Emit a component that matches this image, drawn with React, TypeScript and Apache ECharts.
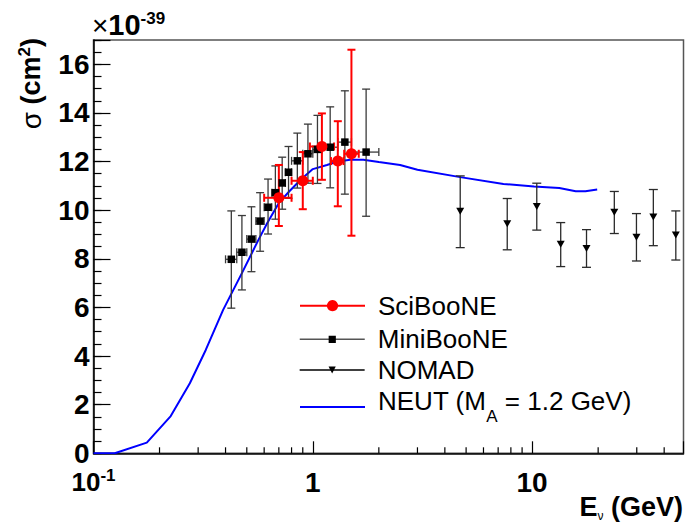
import React, { useEffect, useRef } from 'react';
import * as echarts from 'echarts';

const FONT = "'Liberation Sans', Arial, Helvetica, sans-serif";

// ---- SciBooNE ----
const sciE = [0.7, 0.9, 1.1, 1.3, 1.5];
const sciSigma = [10.51, 11.21, 12.62, 12.02, 12.32];
const sciErrLow = [9.35, 10.04, 11.25, 10.16, 8.95];
const sciErrHigh = [11.86, 12.39, 13.98, 13.66, 16.6];
const sciBinLow = [0.6, 0.8, 0.97, 1.21, 1.39];
const sciBinHigh = [0.8, 1.0, 1.25, 1.38, 1.62];

// ---- MiniBooNE ----
const mbE = [0.425, 0.475, 0.525, 0.575, 0.625, 0.675, 0.725, 0.775, 0.85, 0.95, 1.05, 1.2, 1.4, 1.75];
const mbSigma = [7.98, 8.27, 8.81, 9.55, 10.12, 10.72, 11.12, 11.56, 12.03, 12.32, 12.5, 12.59, 12.8, 12.39];
const mbErrLow = [5.97, 6.72, 7.47, 8.31, 9.02, 9.63, 10.04, 10.49, 10.91, 11.11, 11.1, 10.92, 10.66, 9.75];
const mbErrHigh = [9.97, 9.78, 10.14, 10.72, 11.28, 11.82, 12.18, 12.62, 13.17, 13.54, 13.9, 14.25, 14.91, 14.98];
const mbBinLow = [0.4, 0.45, 0.5, 0.55, 0.6, 0.65, 0.7, 0.75, 0.8, 0.9, 1.0, 1.1, 1.3, 1.5];
const mbBinHigh = [0.45, 0.5, 0.55, 0.6, 0.65, 0.7, 0.75, 0.8, 0.9, 1.0, 1.1, 1.3, 1.5, 2.0];

// ---- NOMAD ----
const nomadE = [4.7, 7.7, 10.5, 13.5, 17.7, 23.7, 29.9, 35.7, 45.2];
const nomadSigma = [9.96, 9.44, 10.15, 8.6, 8.42, 9.92, 8.89, 9.72, 8.98];
const nomadErrLow = [8.46, 8.37, 9.18, 7.68, 7.65, 9.04, 7.91, 8.54, 7.95];
const nomadErrHigh = [11.41, 10.48, 11.11, 9.49, 9.2, 10.77, 9.86, 10.85, 9.97];

// ---- NEUT (M_A = 1.2 GeV) ----
const neutE = [0.1, 0.125, 0.175, 0.225, 0.275, 0.325, 0.39, 0.475, 0.565, 0.62, 0.7, 0.78, 0.88, 1.0, 1.16, 1.3, 1.48, 1.7, 2.0, 2.5, 3.0, 4.7, 7.4, 10.2, 13.3, 15.8, 17.5, 19.8];
const neutSigma = [0, 0, 0.44, 1.53, 2.88, 4.25, 5.9, 7.41, 8.78, 9.47, 10.3, 10.77, 11.25, 11.69, 11.86, 12.0, 12.07, 12.07, 11.98, 11.86, 11.66, 11.36, 11.08, 10.97, 10.91, 10.78, 10.78, 10.85];

// ---- axes ----
const xMin = 0.1;
const xMax = 49;
const yMin = 0;
const yMax = 17;
const yMajorStep = 2;
const yMinorStep = 0.5;
const xTickValues = [0.1, 1, 10];
const xTickTexts = ['{b|10}{s|-1}', '{m|1}', '{m|10}'];
const xMinorTicks = [0.2, 0.3, 0.4, 0.5, 0.6, 0.7, 0.8, 0.9, 2, 3, 4, 5, 6, 7, 8, 9, 20, 30, 40];

const LEGEND_FS = 26;

function errorSeries(
  name: string,
  xs: number[],
  ys: number[],
  lo: number[],
  hi: number[],
  xlo: number[] | null,
  xhi: number[] | null,
  color: string,
  width: number,
  cap: number,
  z: number
) {
  const rows = xs.map((x, i) => [x, ys[i], lo[i], hi[i], xlo ? xlo[i] : x, xhi ? xhi[i] : x]);
  const hasX = !!xlo;
  return {
    type: 'custom',
    name,
    z,
    silent: true,
    clip: false,
    data: rows,
    encode: { x: 0, y: 1 },
    renderItem: (_params: any, api: any) => {
      const x = api.value(0);
      const y = api.value(1);
      const pLo = api.coord([x, api.value(2)]);
      const pHi = api.coord([x, api.value(3)]);
      const h = cap / 2;
      const style = { stroke: color, lineWidth: width, fill: null };
      const children: any[] = [
        { type: 'line', shape: { x1: pLo[0], y1: pLo[1], x2: pHi[0], y2: pHi[1] }, style },
        { type: 'line', shape: { x1: pLo[0] - h, y1: pLo[1], x2: pLo[0] + h, y2: pLo[1] }, style },
        { type: 'line', shape: { x1: pHi[0] - h, y1: pHi[1], x2: pHi[0] + h, y2: pHi[1] }, style },
      ];
      if (hasX) {
        const pL = api.coord([api.value(4), y]);
        const pR = api.coord([api.value(5), y]);
        children.push(
          { type: 'line', shape: { x1: pL[0], y1: pL[1], x2: pR[0], y2: pR[1] }, style },
          { type: 'line', shape: { x1: pL[0], y1: pL[1] - h, x2: pL[0], y2: pL[1] + h }, style },
          { type: 'line', shape: { x1: pR[0], y1: pR[1] - h, x2: pR[0], y2: pR[1] + h }, style }
        );
      }
      return { type: 'group', children };
    },
  };
}

function legendBox(name: string, centerY: number, itemHeight: number, lineH: number, extra: any) {
  return {
    show: true,
    orient: 'vertical',
    left: 299,
    top: centerY - lineH / 2,
    padding: 0,
    itemWidth: 65,
    itemHeight,
    selectedMode: false,
    textStyle: {
      fontSize: LEGEND_FS,
      lineHeight: lineH,
      fontFamily: FONT,
      color: '#000',
      padding: [0, 0, 0, 8],
    },
    data: [{ name, ...extra }],
  };
}

export default function App() {
  const ref = useRef<HTMLDivElement>(null);

  useEffect(() => {
    if (!ref.current) return;
    const chart = echarts.init(ref.current, null, { renderer: 'svg' });

    // NEUT entry: one 39px line; main text top-aligned, subscript pushed down by token padding
    const neutLineH = 39;
    const neutLegend: any = legendBox('NEUT', 407, 14, neutLineH, {
      lineStyle: { color: '#0000ff', width: 2, opacity: 1 },
      itemStyle: { opacity: 0 },
    });
    neutLegend.textStyle.rich = {
      m: { fontSize: LEGEND_FS, fontFamily: FONT, verticalAlign: 'top', lineHeight: neutLineH },
      a: { fontSize: 17, fontFamily: FONT, verticalAlign: 'top', lineHeight: neutLineH, padding: [20, 0, 0, 0] },
    };
    neutLegend.formatter = () => '{m|NEUT (M}{a|A}{m| = 1.2 GeV)}';

    const option: any = {
      animation: false,
      backgroundColor: '#ffffff',
      grid: {
        left: 93.5,
        right: 5.5,
        top: 40,
        bottom: 71.7,
        show: true,
        borderColor: '#555',
        borderWidth: 1.5,
        backgroundColor: 'transparent',
      },
      legend: [
        legendBox('SciBooNE', 305.7, 14, 30, {
          lineStyle: { color: '#ff0000', width: 2, opacity: 1 },
          itemStyle: { color: '#ff0000' },
        }),
        legendBox('MiniBooNE', 339.3, 9, 30, {
          lineStyle: { color: '#555555', width: 1.5, opacity: 1 },
          itemStyle: { color: '#000000' },
        }),
        legendBox('NOMAD', 370, 9, 26, {
          lineStyle: { color: '#000000', width: 1.3, opacity: 1 },
          itemStyle: { color: '#000000' },
        }),
        neutLegend,
      ],
      xAxis: {
        type: 'log',
        logBase: 10,
        min: xMin,
        max: xMax,
        position: 'bottom',
        axisLine: { show: true, onZero: false, lineStyle: { color: '#000', width: 1.5 } },
        axisTick: { show: true, inside: true, length: 12, lineStyle: { color: '#000', width: 1.2 } },
        splitLine: { show: false },
        axisLabel: {
          margin: 14,
          color: '#000',
          fontFamily: FONT,
          formatter: (v: number) => {
            const i = xTickValues.findIndex((t) => Math.abs(Math.log10(v) - Math.log10(t)) < 1e-6);
            return i >= 0 ? xTickTexts[i] : '';
          },
          rich: {
            m: { fontSize: 28, fontWeight: 'bold', fontFamily: FONT, lineHeight: 30 },
            b: { fontSize: 26, fontWeight: 'bold', fontFamily: FONT, lineHeight: 30 },
            s: { fontSize: 17, fontWeight: 'bold', fontFamily: FONT, verticalAlign: 'top', lineHeight: 14 },
          },
        },
      },
      yAxis: [
        {
          type: 'value',
          min: yMin,
          max: yMax,
          interval: yMajorStep,
          position: 'left',
          axisLine: { show: true, lineStyle: { color: '#000', width: 1.5 } },
          axisTick: { show: true, inside: true, length: 17, lineStyle: { color: '#000', width: 1.2 } },
          splitLine: { show: false },
          axisLabel: {
            margin: 4,
            fontSize: 28,
            fontWeight: 'bold',
            fontFamily: FONT,
            color: '#000',
            formatter: (v: number) => (v <= 16 ? String(v) : ''),
          },
        },
        {
          type: 'value',
          min: yMin,
          max: yMax,
          interval: yMinorStep,
          position: 'left',
          offset: 0,
          axisLine: { show: false },
          axisTick: { show: true, inside: true, length: 8, lineStyle: { color: '#000', width: 1.2 } },
          axisLabel: { show: false },
          splitLine: { show: false },
        },
      ],
      graphic: [
        {
          type: 'text',
          x: 92,
          y: 25,
          style: {
            text: '{t|×}{b|10}{s|-39}',
            align: 'left',
            verticalAlign: 'middle',
            fill: '#000',
            fontFamily: FONT,
            fontSize: 27,
            fontWeight: 'bold',
            rich: {
              t: { fontSize: 28, fontWeight: 'normal', fontFamily: FONT, lineHeight: 30 },
              b: { fontSize: 29, fontWeight: 'bold', fontFamily: FONT, lineHeight: 30 },
              s: { fontSize: 17, fontWeight: 'bold', fontFamily: FONT, verticalAlign: 'top', lineHeight: 14 },
            },
          },
        },
        {
          type: 'text',
          x: 31,
          y: 38,
          rotation: Math.PI / 2,
          style: {
            text: '{g|σ} {b|(cm}{p|2}{b|)}',
            align: 'right',
            verticalAlign: 'middle',
            fill: '#000',
            fontFamily: FONT,
            fontSize: 27,
            rich: {
              g: { fontSize: 28, fontFamily: FONT, lineHeight: 30 },
              b: { fontSize: 27, fontWeight: 'bold', fontFamily: FONT, lineHeight: 30 },
              p: { fontSize: 17, fontWeight: 'bold', fontFamily: FONT, verticalAlign: 'top', lineHeight: 17 },
            },
          },
        },
        {
          type: 'text',
          x: 683,
          y: 507,
          style: {
            text: '{b|E}{n|ν}{b| (GeV)}',
            align: 'right',
            verticalAlign: 'middle',
            fill: '#000',
            fontFamily: FONT,
            fontSize: 27,
            rich: {
              b: { fontSize: 27, fontWeight: 'bold', fontFamily: FONT, lineHeight: 30 },
              n: { fontSize: 12, fontFamily: FONT, verticalAlign: 'bottom', lineHeight: 6 },
            },
          },
        },
      ],
      series: [
        {
          type: 'custom',
          name: 'xMinorTicks',
          silent: true,
          clip: false,
          z: 1,
          data: xMinorTicks.map((v) => [v, yMin]),
          encode: { x: 0, y: 1 },
          renderItem: (_p: any, api: any) => {
            const p = api.coord([api.value(0), api.value(1)]);
            return {
              type: 'line',
              shape: { x1: p[0], y1: p[1], x2: p[0], y2: p[1] - 6 },
              style: { stroke: '#000', lineWidth: 1.2 },
            };
          },
        },
        {
          type: 'line',
          name: 'NEUT',
          data: neutE.map((e, i) => [e, neutSigma[i]]),
          symbol: 'none',
          smooth: false,
          lineStyle: { color: '#0000ff', width: 2 },
          itemStyle: { color: '#0000ff' },
          z: 2,
          silent: true,
        },
        errorSeries('MiniBooNE errors', mbE, mbSigma, mbErrLow, mbErrHigh, mbBinLow, mbBinHigh, '#3a3a3a', 1.3, 8, 3),
        errorSeries('NOMAD errors', nomadE, nomadSigma, nomadErrLow, nomadErrHigh, null, null, '#2a2a2a', 1.3, 9, 3),
        errorSeries('SciBooNE errors', sciE, sciSigma, sciErrLow, sciErrHigh, sciBinLow, sciBinHigh, '#ff0000', 2, 8, 4),
        {
          type: 'line',
          name: 'MiniBooNE',
          data: mbE.map((e, i) => [e, mbSigma[i]]),
          symbol: 'rect',
          symbolSize: 7.5,
          showSymbol: true,
          lineStyle: { width: 0, opacity: 0 },
          itemStyle: { color: '#000000' },
          z: 5,
          silent: true,
        },
        {
          type: 'line',
          name: 'NOMAD',
          data: nomadE.map((e, i) => [e, nomadSigma[i]]),
          symbol: 'triangle',
          symbolRotate: 180,
          symbolSize: [8, 7],
          showSymbol: true,
          lineStyle: { width: 0, opacity: 0 },
          itemStyle: { color: '#000000' },
          z: 5,
          silent: true,
        },
        {
          type: 'line',
          name: 'SciBooNE',
          data: sciE.map((e, i) => [e, sciSigma[i]]),
          symbol: 'circle',
          symbolSize: 11,
          showSymbol: true,
          lineStyle: { width: 0, opacity: 0 },
          itemStyle: { color: '#ff0000' },
          z: 6,
          silent: true,
        },
      ],
    };

    chart.setOption(option);
    return () => {
      chart.dispose();
    };
  }, []);

  return (
    <div
      ref={ref}
      style={{ position: 'absolute', left: 0, top: 0, width: 689, height: 525, background: '#fff' }}
    />
  );
}
